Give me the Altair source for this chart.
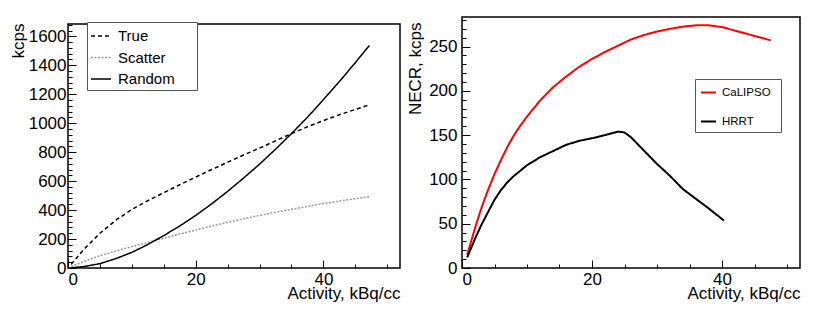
import altair as alt
import pandas as pd

FONT = "Liberation Sans"

# ---------------- left panel data ----------------
left_series = ["True", "Scatter", "Random"]
left_activity = [0.5, 2.5, 5, 7.5, 10, 12.5, 15, 17.5, 20, 22.5, 25, 27.5, 30, 32.5, 35, 37.5, 40, 42.5, 45, 47.2]
true_kcps = [25, 130, 240, 330, 405, 465, 520, 575, 628, 680, 730, 780, 828, 878, 928, 975, 1018, 1058, 1095, 1127]
scatter_kcps = [10, 45, 85, 118, 148, 176, 205, 235, 262, 290, 315, 340, 363, 385, 405, 425, 445, 462, 478, 492]
random_kcps = [1, 10, 30, 65, 108, 162, 224, 290, 363, 443, 529, 621, 717, 820, 928, 1041, 1162, 1287, 1418, 1537]

# ---------------- right panel data ----------------
right_series = ["CaLIPSO", "HRRT"]
calipso_activity = [0.8, 2, 3, 4, 5, 6, 7, 8, 9, 10, 12, 14, 16, 18, 20, 22, 24, 26, 28, 30, 32, 34, 36, 38, 40, 42, 44, 46, 47.5]
calipso_necr = [15, 45, 68, 88, 106, 122, 137, 150, 161, 171, 189, 204, 216, 227, 236, 244, 251, 258, 263, 267, 270, 272.5, 274, 274, 272, 268, 264, 260, 257]
hrrt_activity = [0.8, 2, 3, 4, 5, 6, 7, 8, 9, 10, 12, 14, 16, 18, 20, 22, 24, 25, 26, 28, 30, 32, 34, 36, 38, 40.3]
hrrt_necr = [12, 33, 49, 63, 77, 88, 97, 104, 110, 116, 125, 132, 139, 143.5, 146.5, 150, 154, 153, 147.6, 132.5, 117.5, 104, 89, 78, 67, 53.5]

# tick positions (every tick) and the step at which ticks carry a label
x_ticks = list(range(0, 51, 5))
x_label_step = 20
left_y_ticks = list(range(0, 1681, 40))
left_y_label_step = 200
right_y_ticks = list(range(0, 281, 10))
right_y_label_step = 50

left_df = pd.concat([
    pd.DataFrame({"activity": left_activity, "value": true_kcps, "series": "True"}),
    pd.DataFrame({"activity": left_activity, "value": scatter_kcps, "series": "Scatter"}),
    pd.DataFrame({"activity": left_activity, "value": random_kcps, "series": "Random"}),
])
right_df = pd.concat([
    pd.DataFrame({"activity": calipso_activity, "value": calipso_necr, "series": "CaLIPSO"}),
    pd.DataFrame({"activity": hrrt_activity, "value": hrrt_necr, "series": "HRRT"}),
])


def inward_axis(orient, values, step, pad, **kw):
    # ROOT-style ticks pointing into the frame: long at labelled values, short otherwise
    test = f"datum.value % {step} === 0"
    return alt.Axis(
        orient=orient, values=values, format="d", domain=False, grid=False,
        ticks=True, tickColor="black", tickWidth=1, tickOpacity=1, zindex=1,
        tickSize={"expr": f"{test} ? -8 : -4"},
        labelExpr=f"{test} ? datum.label : ''",
        labelFontSize={"condition": {"test": test, "value": 17}, "value": 0},
        labelPadding=8 + pad, labelOverlap=False, **kw)


def panel(df, w, h, xdom, ydom, y_ticks, y_step, ytitle, ytitle_x, ytitle_y,
          ylab_pad, color_enc, dash_enc, sw):
    xs = alt.Scale(domain=xdom, nice=False, zero=False)
    ys = alt.Scale(domain=ydom, nice=False, zero=False)
    return alt.Chart(df).mark_line(strokeWidth=sw, clip=True).encode(
        x=alt.X("activity:Q", scale=xs, axis=inward_axis(
            "bottom", x_ticks, x_label_step, 3,
            title="Activity, kBq/cc", titleAnchor="end", titleAlign="right",
            titleX=w, titleY=30, titleBaseline="alphabetic")),
        y=alt.Y("value:Q", scale=ys, axis=inward_axis(
            "left", y_ticks, y_step, ylab_pad,
            title=ytitle, titleAngle=270, titleAlign="right", titleBaseline="bottom",
            titleX=ytitle_x, titleY=ytitle_y)),
        color=color_enc,
        strokeDash=dash_enc,
        detail="series:N",
    ).properties(width=w, height=h)


def legend(x, y, size, fs, pad, rowpad, sw, loff, extra):
    return alt.Legend(
        orient="none", legendX=x, legendY=y,
        title=" ", titleOrient="right", titlePadding=extra, titleFontSize=1,
        fillColor="white", strokeColor="#555555", padding=pad,
        symbolType="stroke", symbolSize=size, symbolStrokeWidth=sw,
        labelFontSize=fs, labelFont=FONT, labelColor="black", labelOffset=loff,
        rowPadding=rowpad,
    )


left_leg = legend(19, 5, 400, 15, 3, 2.5, 1.5, 6, 19)
left_color = alt.Color("series:N", scale=alt.Scale(
    domain=left_series, range=["black", "#9a9a9a", "black"]), legend=left_leg)
left_dash = alt.StrokeDash("series:N", scale=alt.Scale(
    domain=left_series, range=[[4, 3], [2, 1.5], [1, 0]]), legend=left_leg)

right_leg = legend(233, 62, 225, 11.5, 5, 15, 2, 5, 5)
right_color = alt.Color("series:N", scale=alt.Scale(
    domain=right_series, range=["#ff0000", "black"]), legend=right_leg)
right_dash = alt.StrokeDash("series:N", scale=alt.Scale(
    domain=right_series, range=[[1, 0], [1, 0]]), legend=right_leg)

left = panel(left_df, 332, 244, [0, 52], [0, 1685], left_y_ticks, left_y_label_step,
             "kcps", -41, -1, 2, left_color, left_dash, 1.5)
right = panel(right_df, 338, 251, [0, 52], [0, 283.4], right_y_ticks, right_y_label_step,
              "NECR, kcps", -38, 5, 5, right_color, right_dash, 2)

# invisible spacer that lowers the left panel so both x axes share a baseline
spacer = alt.Chart(pd.DataFrame({"s": [0]})).mark_point(opacity=0).properties(
    width=1, height=1, view=alt.ViewBackground(stroke="transparent"))
left_col = alt.vconcat(spacer, left, spacing=1)

chart = alt.hconcat(left_col, right, spacing=4).resolve_scale(
    color="independent", strokeDash="independent"
).properties(
    padding={"left": 0, "top": 6, "right": 0, "bottom": 0}
).configure_view(
    stroke="black", strokeWidth=1.5
).configure_axis(
    labelFont=FONT, titleFont=FONT, titleFontSize=17,
    titleFontWeight="normal", labelColor="black", titleColor="black"
)

chart.save("out.html", embed_options={"renderer": "svg", "actions": False})
